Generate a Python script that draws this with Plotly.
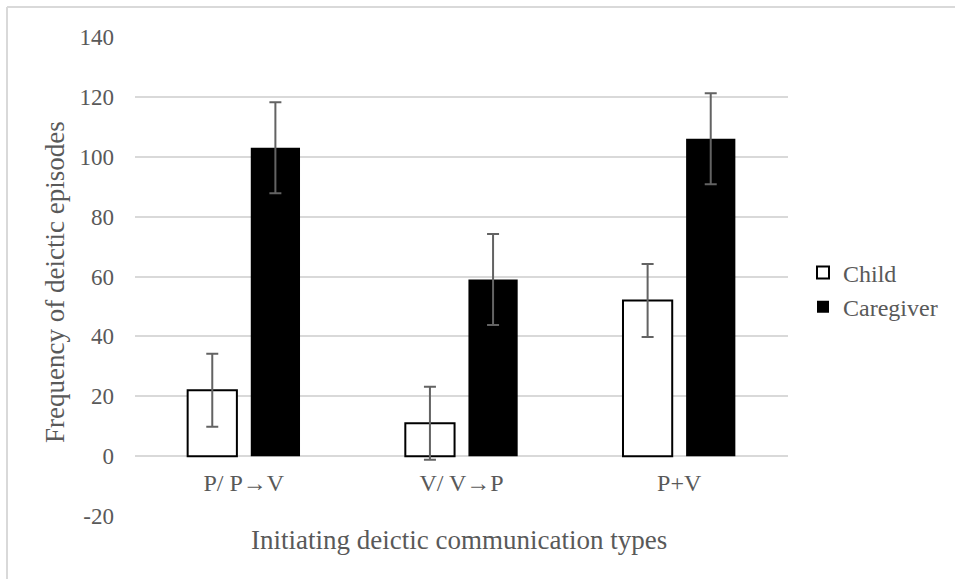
import plotly.graph_objects as go

categories = ["P/ P\u2192V", "V/ V\u2192P", "P+V"]
child_values = [22, 11, 52]
child_errors = [12.2, 12.2, 12.2]
caregiver_values = [103, 59, 106]
caregiver_errors = [15.2, 15.2, 15.2]
y_ticks = [-20, 0, 20, 40, 60, 80, 100, 120, 140]
y_tick_labels = ["-20", "0", "20", "40", "60", "80", "100", "120", "140"]

FONT = "Liberation Serif, Times New Roman, serif"
GRAY = "#595959"

fig = go.Figure()
fig.add_trace(go.Bar(
    name="Child", x=categories, y=child_values,
    marker=dict(color="white", line=dict(color="black", width=2)),
    error_y=dict(type="data", array=child_errors, color="#636363", thickness=2, width=6),
))
fig.add_trace(go.Bar(
    name="Caregiver", x=categories, y=caregiver_values,
    marker=dict(color="black", line=dict(color="black", width=0)),
    error_y=dict(type="data", array=caregiver_errors, color="#636363", thickness=2, width=6),
))

W, H = 955, 579
L, R, T, B = 135, 167, 37, 63
pw = W - L - R
ph = H - T - B

def px_x(x):
    return (x - L) / pw

def px_y(y):
    return (H - B - y) / ph

fig.update_layout(
    width=W, height=H,
    margin=dict(l=L, r=R, t=T, b=B, pad=0),
    paper_bgcolor="white", plot_bgcolor="white",
    font=dict(family=FONT, size=23, color=GRAY),
    barmode="group", bargap=0.42, bargroupgap=0.22,
    showlegend=True,
    legend=dict(x=px_x(803), y=px_y(290), xanchor="left", yanchor="middle",
                font=dict(family=FONT, size=24, color=GRAY),
                bgcolor="rgba(0,0,0,0)", itemwidth=30, tracegroupgap=0),
    xaxis=dict(anchor="free", position=px_y(456), showline=False, showgrid=False,
               zeroline=False, ticks="", ticklabelstandoff=10,
               tickfont=dict(family=FONT, size=24, color=GRAY)),
    yaxis=dict(range=[-20, 140], tickvals=y_ticks, ticktext=y_tick_labels,
               showgrid=True, gridcolor="#d9d9d9",
               gridwidth=1.5, zeroline=True, zerolinecolor="#d9d9d9", zerolinewidth=1.5,
               showline=False, ticks="", ticklabelstandoff=20,
               tickfont=dict(family=FONT, size=23, color=GRAY)),
    annotations=[
        dict(text="Frequency of deictic episodes", xref="paper", yref="paper",
             x=px_x(55), y=px_y(282), textangle=-90, showarrow=False,
             xanchor="center", yanchor="middle",
             font=dict(family=FONT, size=27, color=GRAY)),
        dict(text="Initiating deictic communication types", xref="paper", yref="paper",
             x=px_x(459), y=px_y(540), showarrow=False,
             xanchor="center", yanchor="middle",
             font=dict(family=FONT, size=27, color=GRAY)),
    ],
    shapes=[
        dict(type="line", xref="paper", yref="paper",
             x0=px_x(7), y0=px_y(7), x1=px_x(955), y1=px_y(7),
             line=dict(color="#d9d9d9", width=2), layer="below"),
        dict(type="line", xref="paper", yref="paper",
             x0=px_x(7), y0=px_y(7), x1=px_x(7), y1=px_y(579),
             line=dict(color="#d9d9d9", width=2), layer="below"),
    ],
)

fig.write_html("out.html", config={"displayModeBar": False},
               post_script="document.body.style.margin='0';"
                           "document.documentElement.style.overflow='hidden';")
